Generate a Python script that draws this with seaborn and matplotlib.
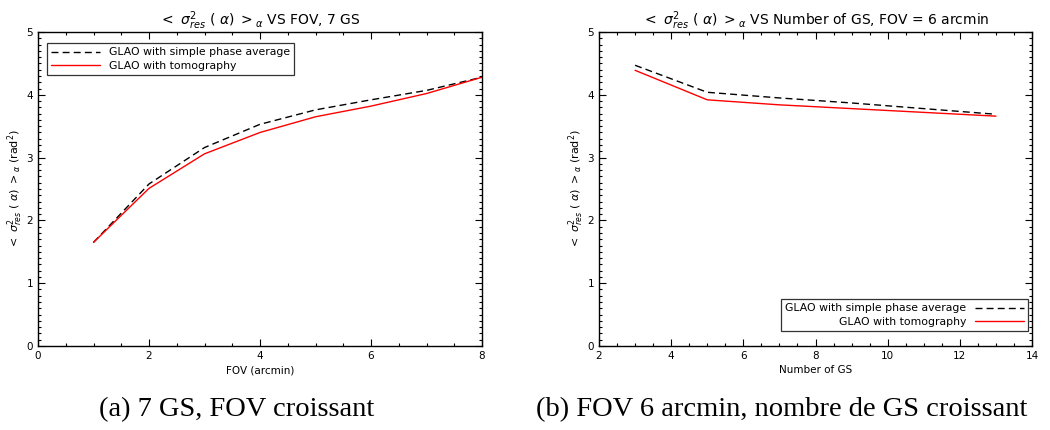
import matplotlib
matplotlib.use("Agg")
import matplotlib.pyplot as plt
import seaborn as sns
from matplotlib.ticker import MultipleLocator

# (a) 7 GS, increasing FOV
fov = [1, 2, 3, 4, 5, 6, 7, 8]
fov_simple = [1.65, 2.58, 3.16, 3.53, 3.76, 3.92, 4.07, 4.28]
fov_tomo = [1.65, 2.51, 3.06, 3.40, 3.65, 3.82, 4.02, 4.28]

# (b) FOV = 6 arcmin, increasing number of GS
n_gs = [3, 5, 7, 9, 11, 13]
gs_simple = [4.47, 4.04, 3.95, 3.87, 3.78, 3.69]
gs_tomo = [4.39, 3.92, 3.84, 3.78, 3.72, 3.66]

label_simple = 'GLAO with simple phase average'
label_tomo = 'GLAO with tomography'
caption_a = '(a) 7 GS, FOV croissant'
caption_b = '(b) FOV 6 arcmin, nombre de GS croissant'

sns.set_style("ticks")
plt.rcParams['font.family'] = ['DejaVu Sans']
plt.rcParams['mathtext.fontset'] = 'dejavusans'
plt.rcParams['text.color'] = 'black'
plt.rcParams['axes.labelcolor'] = 'black'
plt.rcParams['xtick.color'] = 'black'
plt.rcParams['ytick.color'] = 'black'

fig = plt.figure(figsize=(10.5, 4.3), dpi=100)
ax1 = fig.add_axes([38 / 1050, 1 - 346 / 430, 444 / 1050, 314 / 430])
ax2 = fig.add_axes([599 / 1050, 1 - 346 / 430, 433 / 1050, 314 / 430])

sigma = r'$<\ \sigma^2_{res}\ (\ \alpha)\ >_{\alpha}$'
ylab = sigma + r' (rad$^2$)'


def style_axes(ax, xmin, xmax, xmajor):
    ax.set_xlim(xmin, xmax)
    ax.set_ylim(0, 5)
    ax.xaxis.set_major_locator(MultipleLocator(xmajor))
    ax.xaxis.set_minor_locator(MultipleLocator(0.5))
    ax.yaxis.set_major_locator(MultipleLocator(1))
    ax.yaxis.set_minor_locator(MultipleLocator(0.1))
    ax.tick_params(which='both', direction='in', top=True, right=True,
                   labelsize=7.5, width=0.8, color='black')
    ax.tick_params(which='major', length=5)
    ax.tick_params(which='minor', length=2.5)
    for sp in ax.spines.values():
        sp.set_visible(True)
        sp.set_linewidth(1.0)
        sp.set_color('black')
    ax.set_ylabel(ylab, fontsize=8, labelpad=1)


# left panel
sns.lineplot(x=fov, y=fov_simple, ax=ax1, color='black', lw=1,
             linestyle=(0, (5, 3)), label=label_simple)
sns.lineplot(x=fov, y=fov_tomo, ax=ax1, color='red', lw=1, label=label_tomo)
style_axes(ax1, 0, 8, 2)
ax1.set_xlabel('FOV (arcmin)', fontsize=7.5, labelpad=3)
ax1.set_title(sigma + ' VS FOV, 7 GS', fontsize=10, pad=4)
leg1 = ax1.legend(loc='upper left', fontsize=7.8, frameon=True, fancybox=False,
                  edgecolor='black', borderpad=0.4, handlelength=4.5,
                  labelspacing=0.3, borderaxespad=0,
                  bbox_to_anchor=(0.02, 0.965))
leg1.get_frame().set_linewidth(0.9)

# right panel
sns.lineplot(x=n_gs, y=gs_simple, ax=ax2, color='black', lw=1,
             linestyle=(0, (5, 3)), label=label_simple)
sns.lineplot(x=n_gs, y=gs_tomo, ax=ax2, color='red', lw=1, label=label_tomo)
style_axes(ax2, 2, 14, 2)
ax2.set_xlabel('Number of GS', fontsize=7.5, labelpad=3)
ax2.set_title(sigma + ' VS Number of GS, FOV = 6 arcmin', fontsize=10, pad=4)
leg2 = ax2.legend(loc='lower right', fontsize=7.8, frameon=True, fancybox=False,
                  edgecolor='black', borderpad=0.4, handlelength=4.5,
                  labelspacing=0.3, markerfirst=False, borderaxespad=0,
                  bbox_to_anchor=(0.991, 0.048))
leg2.get_frame().set_linewidth(0.9)
for t in leg2.get_texts():
    t.set_ha('right')
leg2._legend_box.align = 'right'

fig.text(237 / 1050, 1 - 410 / 430, caption_a, ha='center', va='center',
         fontsize=20.5, color='black', family=['Liberation Serif', 'DejaVu Serif'])
fig.text(782 / 1050, 1 - 410 / 430, caption_b, ha='center', va='center',
         fontsize=20.5, color='black', family=['Liberation Serif', 'DejaVu Serif'])

fig.savefig('out.png', dpi=100)
